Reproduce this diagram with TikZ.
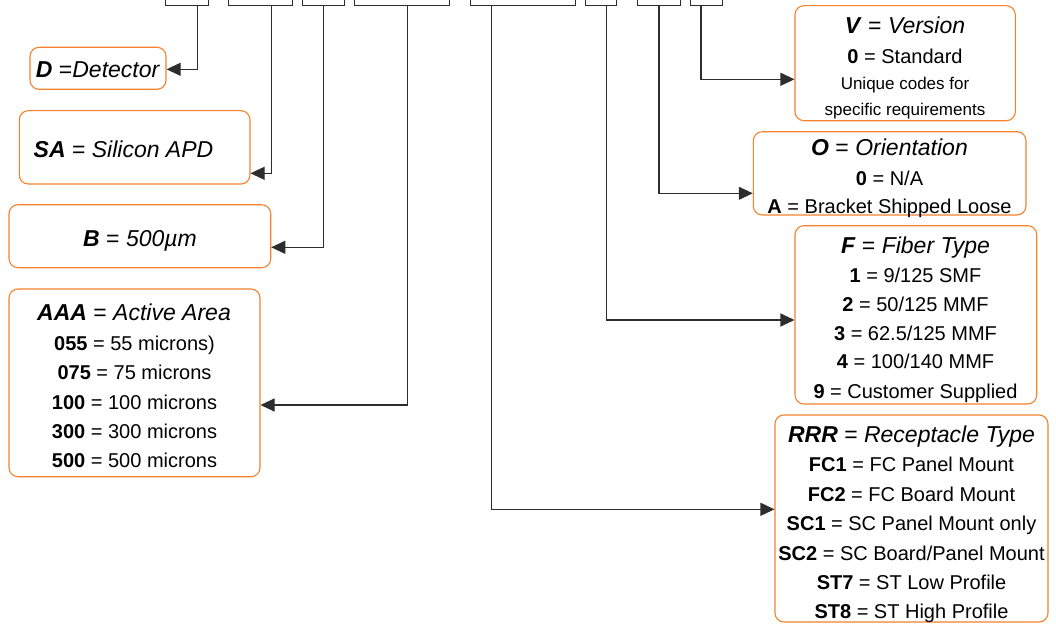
\documentclass[tikz,border=0pt]{standalone}
\usepackage{fontspec}
\setmainfont{Liberation Sans}
\usetikzlibrary{arrows.meta}
\definecolor{boxorange}{RGB}{247,130,45}
\definecolor{linegray}{RGB}{45,45,45}
\newcommand{\ttlf}{\fontsize{23}{27}\selectfont}
\newcommand{\bdyf}{\fontsize{20}{24}\selectfont}
\newcommand{\smlf}{\fontsize{17}{20}\selectfont}
\newcommand{\bi}[1]{\textbf{\textit{#1}}}
\begin{document}
\begin{tikzpicture}[x=1pt,y=-1pt,
  obox/.style={draw=boxorange, line width=1.1pt, rounded corners=9pt, fill=white, inner sep=0pt},
  topbox/.style={draw=linegray, line width=1pt, fill=white, inner sep=0pt, minimum height=36pt},
  conn/.style={draw=linegray, line width=1.1pt, -{Triangle[length=14pt,width=13pt]}},
  ttl/.style={inner sep=0pt, anchor=base, font=\ttlf},
  bdy/.style={inner sep=0pt, anchor=base, font=\bdyf},
  sml/.style={inner sep=0pt, anchor=base, font=\smlf}]
\useasboundingbox (0,0) rectangle (1056,623);
\clip (0,0) rectangle (1056,623);
\fill[white] (0,0) rectangle (1056,623);

% top code boxes
\node[topbox, minimum width=42.9pt] (t1) at (186.75,-12) {};
\node[topbox, minimum width=63.6pt] (t2) at (260.6,-12) {};
\node[topbox, minimum width=42.1pt] (t3) at (323.35,-12) {};
\node[topbox, minimum width=94.9pt] (t4) at (402.15,-12) {};
\node[topbox, minimum width=104.9pt] (t5) at (522.75,-12) {};
\node[topbox, minimum width=31.4pt] (t6) at (601.2,-12) {};
\node[topbox, minimum width=42.1pt] (t7) at (658.95,-12) {};
\node[topbox, minimum width=31.7pt] (t8) at (706.25,-12) {};

% orange description boxes
\node[obox, minimum width=136pt, minimum height=42pt] (D) at (98,68.3) {};
\node[obox, minimum width=230.7pt, minimum height=73.3pt] (SA) at (134.65,147.35) {};
\node[obox, minimum width=261.7pt, minimum height=63pt] (B) at (139.85,236.2) {};
\node[obox, minimum width=251pt, minimum height=187.7pt] (AAA) at (134.5,382.85) {};
\node[obox, minimum width=220.3pt, minimum height=115pt] (V) at (905.15,63.2) {};
\node[obox, minimum width=272.7pt, minimum height=83.3pt] (O) at (889.65,173.35) {};
\node[obox, minimum width=241.7pt, minimum height=178.3pt] (F) at (915.85,314.85) {};
\node[obox, minimum width=273pt, minimum height=207pt] (R) at (911.5,518.5) {};

% texts
\node[ttl] (Dt) at (98,78) {\bi{D} =\textit{Detector}};
\node[ttl] (SAt) at (123.5,157) {\bi{SA} = \textit{Silicon APD}};
\node[ttl] (Bt) at (140,246.7) {\bi{B} = \textit{500µm}};

\node[ttl] (At) at (134,320.7) {\bi{AAA} = \textit{Active Area}};
\node[bdy] (A1) at (134.5,350) {\textbf{055} = 55 microns)};
\node[bdy] (A2) at (134.5,379.5) {\textbf{075} = 75 microns};
\node[bdy] (A3) at (134.5,409) {\textbf{100} = 100 microns};
\node[bdy] (A4) at (134.5,438) {\textbf{300} = 300 microns};
\node[bdy] (A5) at (134.5,467.3) {\textbf{500} = 500 microns};

\node[ttl] (Vt) at (905,33.3) {\bi{V} = \textit{Version}};
\node[bdy] (V1) at (905,64) {\textbf{0} = Standard};
\node[sml] (V2) at (905,90) {Unique codes for};
\node[sml] (V3) at (905,115) {specific requirements};

\node[ttl] (Ot) at (889.5,155) {\bi{O} = \textit{Orientation}};
\node[bdy] (O1) at (889.5,185) {\textbf{0} = N/A};
\node[bdy] (O2) at (889.5,213.3) {\textbf{A} = Bracket Shipped Loose};

\node[ttl] (Ft) at (915.5,253.3) {\bi{F} = \textit{Fiber Type}};
\node[bdy] (F1) at (915.5,282.7) {\textbf{1} = 9/125 SMF};
\node[bdy] (F2) at (915.5,311.7) {\textbf{2} = 50/125 MMF};
\node[bdy] (F3) at (915.5,340) {\textbf{3} = 62.5/125 MMF};
\node[bdy] (F4) at (915.5,368.3) {\textbf{4} = 100/140 MMF};
\node[bdy] (F5) at (915.5,398.3) {\textbf{9} = Customer Supplied};

\node[ttl] (Rt) at (911.5,442.3) {\bi{RRR} = \textit{Receptacle Type}};
\node[bdy] (R1) at (911.5,471.7) {\textbf{FC1} = FC Panel Mount};
\node[bdy] (R2) at (911.5,501.7) {\textbf{FC2} = FC Board Mount};
\node[bdy] (R3) at (911.5,530.7) {\textbf{SC1} = SC Panel Mount only};
\node[bdy] (R4) at (911.5,560) {\textbf{SC2} = SC Board/Panel Mount};
\node[bdy] (R5) at (911.5,589) {\textbf{ST7} = ST Low Profile};
\node[bdy] (R6) at (911.5,618.3) {\textbf{ST8} = ST High Profile};

% bend points
\coordinate (kD) at (197.8,69.3);
\coordinate (kSA) at (271.3,173.3);
\coordinate (kB) at (323.7,247.3);
\coordinate (kA) at (407.6,405);
\coordinate (kR) at (491.4,509.3);
\coordinate (kF) at (606.6,320);
\coordinate (kO) at (659,193.3);
\coordinate (kV) at (701,79.3);

% connectors
\draw[conn] (t1.south -| kD) -- (kD) -- (D.east |- kD);
\draw[conn] (t2.south -| kSA) -- (kSA) -- (SA.east |- kSA);
\draw[conn] (t3.south -| kB) -- (kB) -- (B.east |- kB);
\draw[conn] (t4.south -| kA) -- (kA) -- (AAA.east |- kA);
\draw[conn] (t5.south -| kR) -- (kR) -- (R.west |- kR);
\draw[conn] (t6.south -| kF) -- (kF) -- (F.west |- kF);
\draw[conn] (t7.south -| kO) -- (kO) -- (O.west |- kO);
\draw[conn] (t8.south -| kV) -- (kV) -- (V.west |- kV);
\end{tikzpicture}
\end{document}
